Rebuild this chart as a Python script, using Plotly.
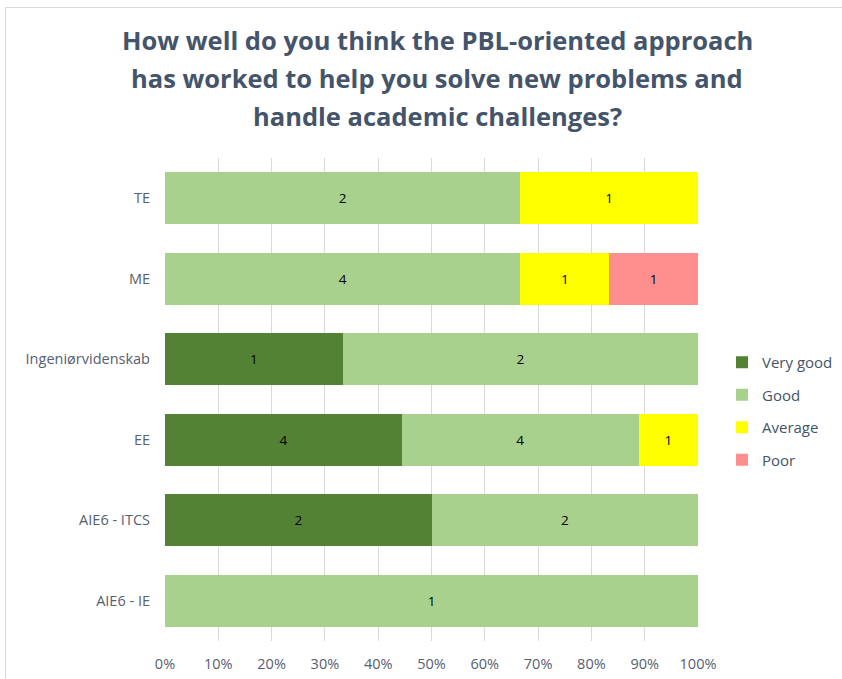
import plotly.graph_objects as go

categories = ["AIE6 - IE", "AIE6 - ITCS", "EE", "Ingeniørvidenskab", "ME", "TE"]
very_good = [0, 2, 4, 1, 0, 0]
good = [1, 2, 4, 2, 4, 2]
average = [0, 0, 1, 0, 1, 1]
poor = [0, 0, 0, 0, 1, 0]
series_names = ["Very good", "Good", "Average", "Poor"]
series_colors = ["#548235", "#A9D18E", "#FFFF00", "#FF8F8F"]
x_ticks = [0, 0.1, 0.2, 0.3, 0.4, 0.5, 0.6, 0.7, 0.8, 0.9, 1.0]
x_tick_labels = ["0%", "10%", "20%", "30%", "40%", "50%", "60%", "70%", "80%", "90%", "100%"]
title_lines = ["How well do you think the PBL-oriented approach",
               "has worked to help you solve new problems and",
               "handle academic challenges?"]

FONT = "Open Sans"
series = [very_good, good, average, poor]
totals = [sum(s[i] for s in series) for i in range(len(categories))]

fig = go.Figure()
for name, vals, col in zip(series_names, series, series_colors):
    fig.add_trace(go.Bar(
        y=categories,
        x=[v / t for v, t in zip(vals, totals)],
        orientation="h",
        name=name,
        legendgroup=name,
        marker=dict(color=col, line=dict(width=0)),
        text=[str(v) if v else "" for v in vals],
        textposition="inside",
        insidetextanchor="middle",
        textfont=dict(family=FONT, size=13.5, color="#000000"),
        hoverinfo="skip",
    ))

W, H = 842, 679
L, R, T, B = 165, 144, 158, 38
pw, ph = W - L - R, H - T - B

def px_x(p):
    return (p - L) / pw

def px_y(p):
    return (H - B - p) / ph

annotations = []
for line, cy in zip(title_lines, [40, 78, 116]):
    annotations.append(dict(
        text=line, x=px_x(437), y=px_y(cy), xref="paper", yref="paper",
        xanchor="center", yanchor="middle", showarrow=False,
        font=dict(family=FONT, size=25.5, color="#44546A", weight="bold"),
    ))

fig.update_layout(
    width=W, height=H,
    margin=dict(l=L, r=R, t=T, b=B, autoexpand=False),
    paper_bgcolor="white", plot_bgcolor="white",
    barmode="stack", bargap=0.355,
    showlegend=True,
    legend=dict(
        x=px_x(722), y=px_y(411), xanchor="left", yanchor="middle",
        font=dict(family=FONT, size=15, color="#44546A"),
        traceorder="grouped", tracegroupgap=10,
        itemwidth=30, bgcolor="rgba(0,0,0,0)",
    ),
    xaxis=dict(
        range=[0, 1], tickvals=x_ticks, ticktext=x_tick_labels,
        showgrid=True, gridcolor="#D9D9D9", gridwidth=1,
        zeroline=False, showline=False, ticks="",
        ticklabelstandoff=12,
        tickfont=dict(family=FONT, size=14.5, color="#56606F"),
        fixedrange=True,
    ),
    yaxis=dict(
        categoryorder="array", categoryarray=categories,
        showgrid=False, zeroline=False, showline=False, ticks="",
        ticklabelstandoff=14,
        tickfont=dict(family=FONT, size=14.5, color="#56606F"),
        fixedrange=True,
    ),
    annotations=annotations,
    shapes=[dict(type="rect", xref="paper", yref="paper",
                 x0=px_x(5.5), x1=px_x(900), y0=px_y(740), y1=px_y(7.5),
                 line=dict(color="#D9D9D9", width=1), layer="below")],
)

fig.write_html("out.html", config={"displayModeBar": False},
               post_script="document.body.style.margin='0';document.body.style.overflow='hidden';")
